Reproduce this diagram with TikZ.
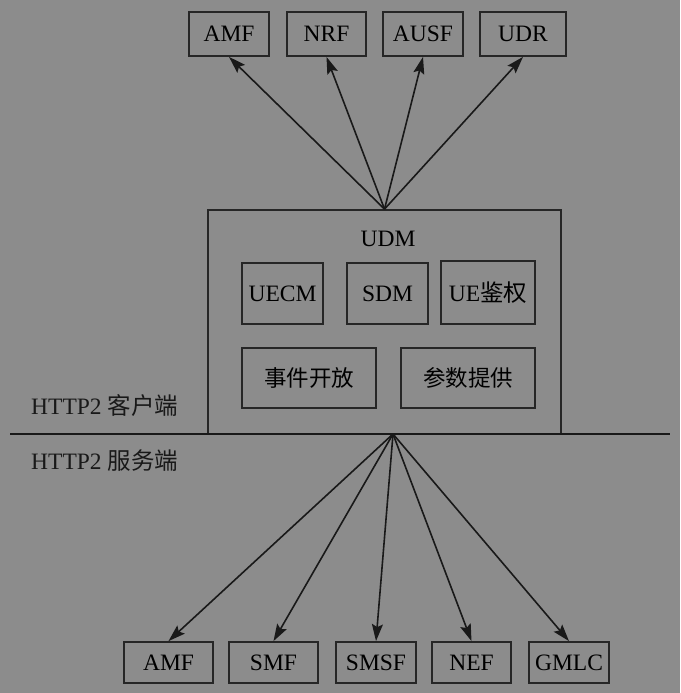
\documentclass[tikz,border=0pt]{standalone}
\usepackage{fontspec}
\setmainfont{Liberation Serif}
\newfontfamily\cjk{Noto Sans CJK SC}
\usepackage{tikz}
\usetikzlibrary{positioning,calc,arrows.meta}

\begin{document}
\begin{tikzpicture}[
      x=1pt, y=-1pt,
      nf/.style={rectangle, draw=black!85, line width=1.8pt, minimum height=44pt, inner sep=0pt, font=\fontsize{23.5}{27}\selectfont},
      func/.style={rectangle, draw=black!85, line width=1.8pt, inner sep=0pt, font=\fontsize{23.5}{27}\selectfont},
      arrow/.style={-{Stealth[length=17pt,width=11pt,inset=3pt]}, line width=1.6pt, draw=black!90},
      lbl/.style={font=\fontsize{23.5}{27}\selectfont, text=black!90, anchor=west, inner sep=0pt},
    ]
    \fill [black!45] (0,0) rectangle (680,693);
    \useasboundingbox (0,0) rectangle (680,693);
    % Consumers (top row)
    \node [nf, minimum width=80pt] (amfT) at (229, 34) {AMF};
    \node [nf, minimum width=79pt] (nrf) at (326.5, 34) {NRF};
    \node [nf, minimum width=80pt] (ausf) at (423, 34) {AUSF};
    \node [nf, minimum width=86pt] (udr) at (523, 34) {UDR};
    % UDM and its services
    \node [func, minimum width=353pt, minimum height=224pt] (udm) at (384.5, 322) {};
    \node [font=\fontsize{23.5}{27}\selectfont, inner sep=0pt] (udmlbl) at (388, 239) {UDM};
    \node [func, minimum width=81pt, minimum height=61pt] (uecm) at (282.5, 293.5) {UECM};
    \node [func, minimum width=81pt, minimum height=61pt] (sdm) at (387.5, 293.5) {SDM};
    \node [func, minimum width=94pt, minimum height=63pt] (ueauth) at (488, 292.5) {UE{\cjk 鉴权}};
    \node [func, minimum width=134pt, minimum height=60pt, font=\fontsize{22.5}{27}\cjk] (evt) at (309, 378) {事件开放};
    \node [func, minimum width=134pt, minimum height=60pt, font=\fontsize{22.5}{27}\cjk] (para) at (468, 378) {参数提供};
    % client / server boundary
    \coordinate (lineL) at (10, 434);
    \coordinate (lineR) at (670, 434);
    \coordinate (hub) at (393, 434);
    \draw [line width=1.8pt, black!90] (lineL) -- (lineR);
    \node [lbl] (client) at (31, 406) {HTTP2 {\cjk 客户端}};
    \node [lbl] (server) at (31, 461) {HTTP2 {\cjk 服务端}};
    \draw [arrow] (udm.north) -- (amfT.south);
    \draw [arrow] (udm.north) -- (nrf.south);
    \draw [arrow] (udm.north) -- (ausf.south);
    \draw [arrow] (udm.north) -- (udr.south);
    % Producers (bottom row)
    \node [nf, minimum width=89pt, minimum height=41pt] (amfB) at (168.5, 662.5) {AMF};
    \node [nf, minimum width=89pt, minimum height=41pt] (smf) at (273.5, 662.5) {SMF};
    \node [nf, minimum width=80pt, minimum height=41pt] (smsf) at (376, 662.5) {SMSF};
    \node [nf, minimum width=79pt, minimum height=41pt] (nef) at (471.5, 662.5) {NEF};
    \node [nf, minimum width=80pt, minimum height=41pt] (gmlc) at (569, 662.5) {GMLC};
    \foreach \t in {amfB, smf, smsf, nef, gmlc}
      \draw [arrow] (hub) -- (\t.north);
  \end{tikzpicture}
\end{document}
